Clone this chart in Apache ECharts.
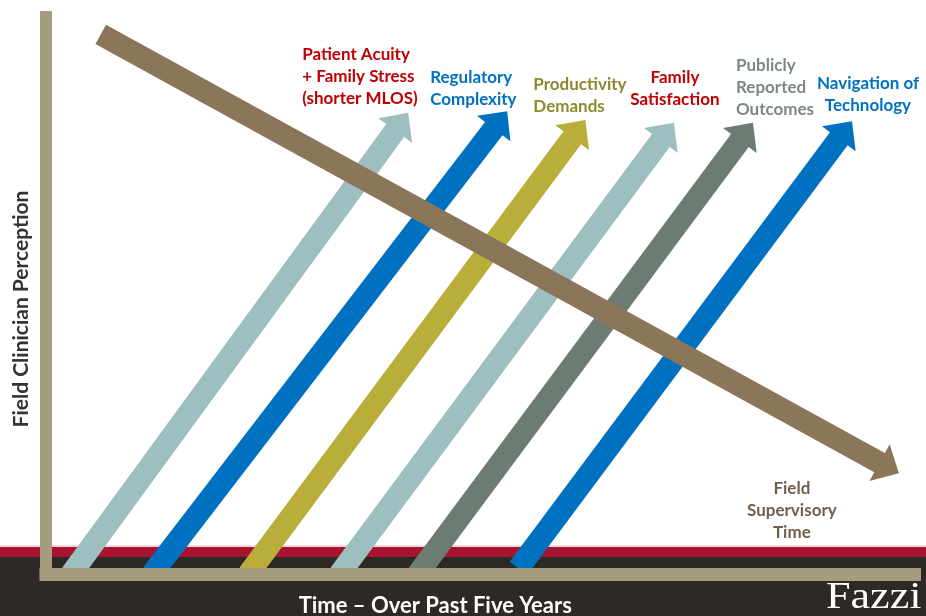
<!DOCTYPE html>
<html>
<head>
<meta charset="utf-8">
<style>
  html, body { margin: 0; padding: 0; background: #ffffff; }
  #chart { width: 926px; height: 616px; }
</style>
<script src="https://cdn.jsdelivr.net/npm/echarts@6/dist/echarts.min.js"></script>
</head>
<body>
<div id="chart"></div>
<script>
// Pressures on field clinicians over the past five years (0-100 on both axes)
const labels = [
  'Patient Acuity\n+ Family Stress\n(shorter MLOS)',
  'Regulatory\nComplexity',
  'Productivity\nDemands',
  'Family\nSatisfaction',
  'Publicly\nReported\nOutcomes',
  'Navigation of\nTechnology',
  'Field\nSupervisory\nTime'
];
// where each trend starts and where its arrow points
const startTime  = [2.9, 12.2, 23.3, 33.8, 42.8, 54.4, 6.3];
const startLevel = [0, 0, 0, 0, 0, 1.0, 96.9];
const endTime    = [41.7, 53.1, 62.1, 72.3, 81.4, 92.8, 98.2];
const endLevel   = [82.8, 83.1, 81.5, 81.0, 81.0, 81.3, 18.1];

const arrowColors = ['#9dbfbf', '#0070c0', '#b8ae39', '#9dbfbf', '#6c7c73', '#0070c0', '#8b765a'];
const textColors  = ['#c00000', '#0070c0', '#8c8a2c', '#c00000', '#7d8983', '#0070c0', '#6f5f4a'];
// label anchor relative to the arrow tip, in pixels, and text alignment
const labelPlacement = [
  [-106, -36, 'left'],
  [-77, -23, 'left'],
  [-52, -25, 'left'],
  [1, -34, 'center'],
  [-17, -35, 'left'],
  [16, -27, 'center'],
  [-107, 37, 'center']
];

const SHAFT = 22, HEAD_W = 42, HEAD_L = 22;
const AXIS_COLOR = '#a69d7e';
const FONT = 'Lato, "Open Sans", sans-serif';

function arrowPoints(p0, p1) {
  const dx = p1[0] - p0[0], dy = p1[1] - p0[1];
  const len = Math.hypot(dx, dy);
  const ux = dx / len, uy = dy / len;
  const nx = -uy, ny = ux;
  const bx = p1[0] - ux * HEAD_L, by = p1[1] - uy * HEAD_L;
  const s = SHAFT / 2, h = HEAD_W / 2;
  return [
    [p0[0] + nx * s, p0[1] + ny * s],
    [bx + nx * s, by + ny * s],
    [bx + nx * h, by + ny * h],
    [p1[0], p1[1]],
    [bx - nx * h, by - ny * h],
    [bx - nx * s, by - ny * s],
    [p0[0] - nx * s, p0[1] - ny * s]
  ];
}

const trendData = labels.map((name, i) => ({
  name: name,
  value: [startTime[i], startLevel[i], endTime[i], endLevel[i]]
}));

const chart = echarts.init(document.getElementById('chart'), null, { renderer: 'canvas' });

chart.setOption({
  animation: false,
  backgroundColor: '#ffffff',
  grid: { left: 46, right: 11.5, top: 17, bottom: 42, outerBoundsMode: 'none', containLabel: false },
  graphic: [
    { type: 'rect', z: -10, shape: { x: 0, y: 545, width: 926, height: 2 }, style: { fill: '#efdadd' } },
    { type: 'rect', z: -10, shape: { x: 0, y: 547, width: 926, height: 10 }, style: { fill: '#a8132f' } },
    { type: 'rect', z: -10, shape: { x: 0, y: 557, width: 926, height: 59 }, style: { fill: '#2e2925' } },
    {
      type: 'text', z: -5, x: 826, y: 579, scaleX: 1.16,
      style: { text: 'Fazzi', fill: '#ffffff', font: '38px "Liberation Serif", serif' }
    }
  ],
  xAxis: {
    type: 'value', min: 0, max: 100, z: 10,
    name: 'Time \u2013 Over Past Five Years',
    nameLocation: 'middle', nameGap: 21,
    nameTextStyle: { color: '#ffffff', fontFamily: FONT, fontWeight: 'bold', fontSize: 22, padding: [0, 90, 0, 0] },
    axisLine: { onZero: false, lineStyle: { color: AXIS_COLOR, width: 13, cap: 'square' } },
    axisTick: { show: false }, axisLabel: { show: false }, splitLine: { show: false }
  },
  yAxis: {
    type: 'value', min: 0, max: 100, z: 10,
    name: 'Field Clinician Perception',
    nameLocation: 'middle', nameGap: 14, nameRotate: 90,
    nameTextStyle: { color: '#333333', fontFamily: FONT, fontWeight: 'bold', fontSize: 21, padding: [0, 27, 0, 0] },
    axisLine: { onZero: false, lineStyle: { color: AXIS_COLOR, width: 12, cap: 'square' } },
    axisTick: { show: false }, axisLabel: { show: false }, splitLine: { show: false }
  },
  series: [{
    type: 'custom',
    coordinateSystem: 'cartesian2d',
    encode: { x: [0, 2], y: [1, 3] },
    data: trendData,
    renderItem: function (params, api) {
      const i = params.dataIndex;
      const p0 = api.coord([api.value(0), api.value(1)]);
      const p1 = api.coord([api.value(2), api.value(3)]);
      const place = labelPlacement[i];
      return {
        type: 'group',
        children: [
          {
            type: 'polygon',
            shape: { points: arrowPoints(p0, p1) },
            style: { fill: arrowColors[i] }
          },
          {
            type: 'text',
            style: {
              text: labels[i],
              x: p1[0] + place[0],
              y: p1[1] + place[1],
              align: place[2],
              verticalAlign: 'middle',
              lineHeight: 22,
              fill: textColors[i],
              font: 'bold 17px ' + FONT
            }
          }
        ]
      };
    }
  }]
});
</script>
</body>
</html>
